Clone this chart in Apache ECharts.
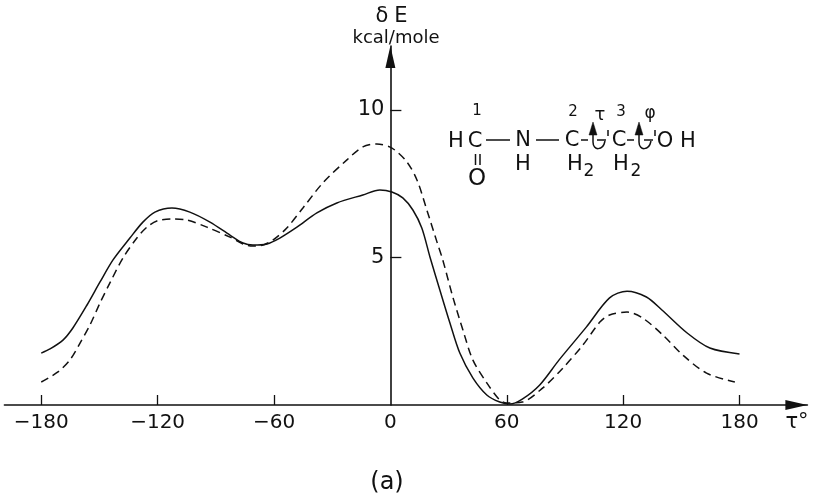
<!DOCTYPE html>
<html>
<head>
<meta charset="utf-8">
<style>html,body{margin:0;padding:0;background:#fff}#chart{width:815px;height:501px}</style>
<script src="https://cdn.jsdelivr.net/npm/echarts@6/dist/echarts.min.js"></script>
</head>
<body>
<div id="chart"></div>
<script>
// values
var tauTicks = [-180, -120, -60, 0, 60, 120, 180];
var energyTicks = [5, 10];

var tauSolid = [-180,-175.5,-168.8,-163.7,-156.4,-149.7,-143,-134.3,-127.6,-121.4,-112.6,-103.4,-93,-82.7,-76,-70.9,-63.7,-57,-48.2,-37.9,-27.6,-14.2,-5.4,0.8,6.4,11.6,16.2,20.4,25.5,30.7,35.8,42.5,49.7,56.4,61.6,68,77,87,101,113,122,132,140,153,164.7,180];
var energySolid = [1.76,1.9,2.2,2.61,3.39,4.17,4.92,5.66,6.2,6.54,6.68,6.54,6.2,5.76,5.49,5.42,5.46,5.66,6.03,6.51,6.85,7.12,7.29,7.22,7.02,6.61,6,5.02,3.9,2.78,1.76,0.92,0.34,0.1,0.03,0.2,0.68,1.53,2.64,3.63,3.86,3.66,3.22,2.44,1.93,1.73];

var tauDashed = [-180,-171.4,-165.2,-160,-154.9,-149.7,-144.6,-137.9,-130.7,-125.5,-120.4,-112.6,-104.9,-94.6,-82.7,-76,-71,-65.7,-60.6,-53.4,-45.1,-34.8,-22.4,-14.2,-7,0.8,8.5,13.7,18.8,24,27,32.2,37.4,42.5,49.7,56.4,60,68,78.6,88.9,99.2,108,113,122,130,140.5,150.8,163,177.6];
var energyDashed = [0.78,1.12,1.53,2.1,2.71,3.46,4.14,4.98,5.66,6.03,6.24,6.31,6.27,6.03,5.69,5.46,5.39,5.42,5.59,6,6.68,7.53,8.31,8.75,8.85,8.71,8.24,7.63,6.61,5.53,4.92,3.66,2.54,1.53,0.75,0.17,0.07,0.1,0.58,1.25,2.03,2.81,3.05,3.15,2.95,2.37,1.69,1.08,0.78];

function pairs(xs, ys) {
    return xs.map(function (x, i) { return [x, ys[i]]; });
}

var font = '"DejaVu Sans"';
var ink = '#111';

function label(str, x, y, size) {
    return {
        type: 'text',
        x: x, y: y,
        style: { text: str, fill: ink, font: size + 'px ' + font, textAlign: 'center', textVerticalAlign: 'middle' }
    };
}
function bond(x1, y1, x2, y2) {
    return { type: 'line', shape: { x1: x1, y1: y1, x2: x2, y2: y2 }, style: { stroke: ink, lineWidth: 1.5 } };
}
// rotation arrow on a bond: a stem with a filled head and a curl below
function curl(x) {
    return [
        bond(x, 130, x, 142),
        {
            type: 'bezierCurve',
            shape: { x1: x, y1: 142, cpx1: x, cpy1: 151, cpx2: x + 10, cpy2: 151, x2: x + 12, y2: 141 },
            style: { fill: 'none', stroke: ink, lineWidth: 1.5 }
        },
        {
            type: 'polygon',
            shape: { points: [[x, 122], [x - 4, 135], [x + 4, 135]] },
            style: { fill: ink, stroke: ink, lineWidth: 0.5 }
        }
    ];
}

var myChart = echarts.init(document.getElementById('chart'), null, { renderer: 'canvas' });
myChart.setOption({
    animation: false,
    backgroundColor: '#fff',
    grid: { left: 4.4, width: 803, top: 46, height: 359, outerBoundsMode: 'none' },
    xAxis: {
        type: 'value',
        min: -199,
        max: 215,
        splitLine: { show: false },
        axisLine: { onZero: false, symbol: ['none', 'triangle'], symbolSize: [10, 22], symbolOffset: [0, -11], lineStyle: { color: ink, width: 1.6 } },
        axisTick: { inside: true, length: 10, customValues: [-180, -120, -60, 60, 120, 180], lineStyle: { color: ink, width: 1.3 } },
        axisLabel: {
            customValues: tauTicks,
            margin: 8,
            color: ink,
            fontFamily: font,
            fontSize: 20,
            formatter: function (v) { return String(v).replace('-', '\u2212'); }
        }
    },
    yAxis: {
        type: 'value',
        min: 0,
        max: 12.17,
        splitLine: { show: false },
        axisLine: { onZero: true, symbol: ['none', 'triangle'], symbolSize: [10, 22], symbolOffset: [0, -11], lineStyle: { color: ink, width: 1.6 } },
        axisTick: { inside: true, length: 11, customValues: energyTicks, lineStyle: { color: ink, width: 1.3 } },
        axisLabel: { customValues: energyTicks, margin: -380, color: ink, fontFamily: font, fontSize: 21 }
    },
    series: [
        {
            type: 'line', name: 'solid', data: pairs(tauSolid, energySolid),
            smooth: 0.3, showSymbol: false, lineStyle: { color: ink, width: 1.5 }
        },
        {
            type: 'line', name: 'dashed', data: pairs(tauDashed, energyDashed),
            smooth: 0.3, showSymbol: false, lineStyle: { color: ink, width: 1.5, type: [8, 5] }
        }
    ],
    graphic: [
        label('\u03b4', 382, 17, 21),
        label('E', 401, 17, 21),
        label('kcal/mole', 396, 38, 18),
        label('(a)', 387, 483, 24),
        label('\u03c4\u00b0', 797, 423, 21),
        // formula
        label('1', 477, 111, 15),
        label('2', 573, 112, 15),
        label('\u03c4', 600, 115, 18),
        label('3', 621, 112, 15),
        label('\u03c6', 650, 114, 17),
        label('H', 456, 142, 21),
        label('C', 475, 142, 21),
        label('N', 523, 141, 21),
        label('H', 523, 165, 21),
        label('C', 572, 141, 21),
        label('C', 619, 141, 21),
        label('O', 477, 179, 23),
        label('O', 665, 142, 21),
        label('H', 688, 142, 21),
        label('H', 575, 165, 21),
        label('2', 589, 172, 17),
        label('H', 621, 165, 21),
        label('2', 636, 172, 17),
        bond(486, 140, 510, 140),
        bond(536, 140, 559, 140),
        bond(475.5, 154, 475.5, 165),
        bond(480, 154, 480, 165),
        bond(581, 140, 588, 140),
        bond(597, 140, 606, 140),
        bond(608, 136, 608, 130),
        bond(627, 140, 634, 140),
        bond(644, 140, 653, 140),
        bond(655, 136, 655, 130)
    ].concat(curl(593), curl(639))
});
window.addEventListener("resize", function() {
    myChart.resize();
});
</script>
</body>
</html>
